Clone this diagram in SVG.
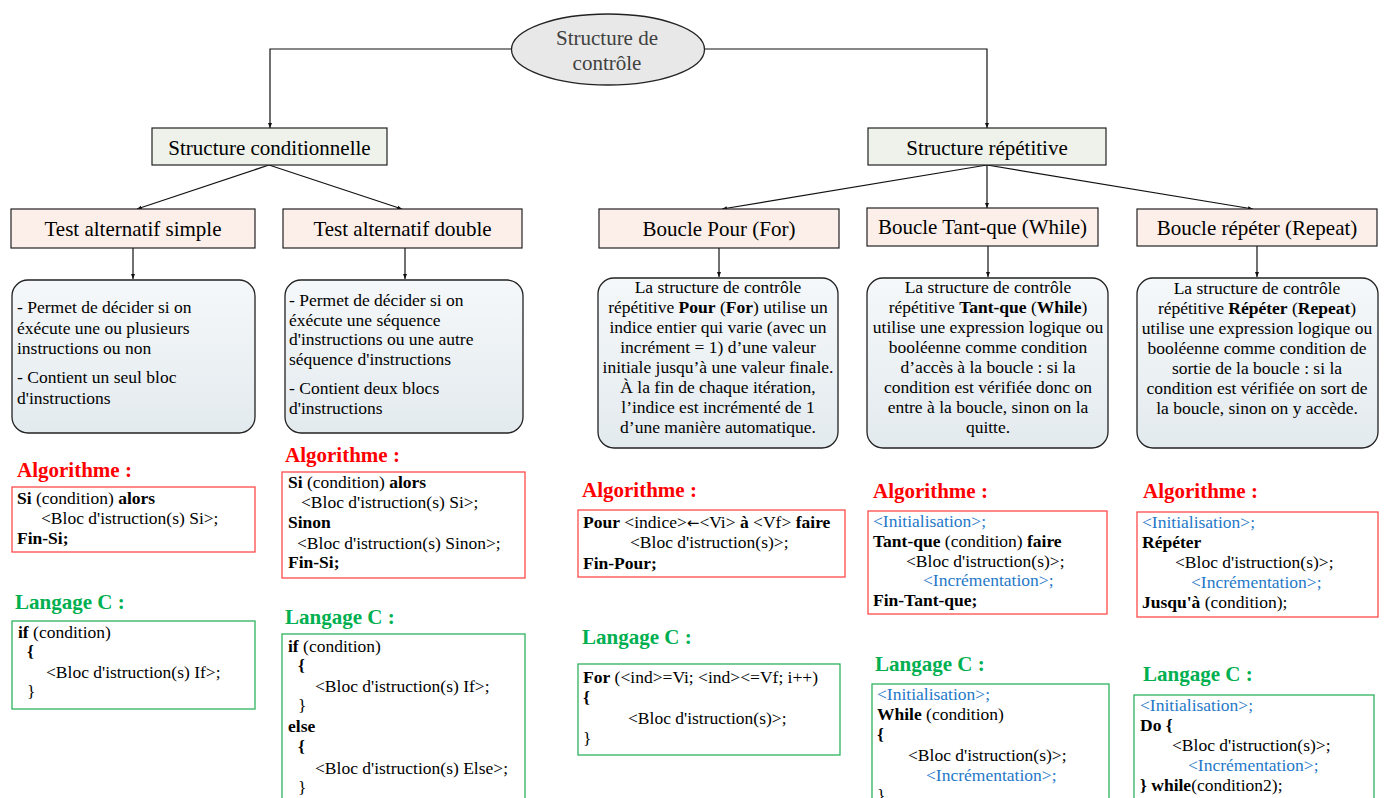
<svg xmlns="http://www.w3.org/2000/svg" width="1385" height="798" viewBox="0 0 1385 798">
<style>
text{font-family:"Liberation Serif","Times New Roman",serif;fill:#000}
.lbl{font-size:21px;text-anchor:middle}
.body{font-size:17.5px}
.ctr{text-anchor:middle}
.code{font-size:17.5px}
.b{font-weight:bold}
.blue{fill:#1f78c8}
.red{fill:#ff0000;font-size:21px;font-weight:bold}
.green{fill:#00b050;font-size:21px;font-weight:bold}
.arw{font-family:"DejaVu Sans",sans-serif;font-size:15px}
.struct{fill:#eef2ea;stroke:#222;stroke-width:1.2}
.test{fill:#fcefe9;stroke:#222;stroke-width:1.2}
.round{fill:url(#g);stroke:#222;stroke-width:1.3}
.rbox{fill:#fff;stroke:#ff4a4a;stroke-width:1.3}
.gbox{fill:#fff;stroke:#2db35d;stroke-width:1.3}
.conn{fill:none;stroke:#111;stroke-width:1.2;marker-end:url(#ah)}
</style>
<defs>
<linearGradient id="g" x1="0" y1="0" x2="0" y2="1">
<stop offset="0" stop-color="#f5f8fa"/>
<stop offset="1" stop-color="#e3eaee"/>
</linearGradient>
<marker id="ah" viewBox="0 0 10 10" refX="10" refY="5" markerWidth="5" markerHeight="5" orient="auto" markerUnits="userSpaceOnUse">
<path d="M0,1 L10,5 L0,9 z" fill="#111"/>
</marker>
</defs>
<rect width="1385" height="798" fill="#fff"/>

<g id="connectors">
<path class="conn" d="M512,49 H270 V128"/>
<path class="conn" d="M705,49 H987 V128"/>
<path class="conn" d="M269,165 L137,209"/>
<path class="conn" d="M269,165 L402,209"/>
<path class="conn" d="M133,248 V279"/>
<path class="conn" d="M405,248 V279"/>
<path class="conn" d="M987,165 L722,209"/>
<path class="conn" d="M987,165 V208"/>
<path class="conn" d="M987,165 L1253,209"/>
<path class="conn" d="M719,248 V277"/>
<path class="conn" d="M988,246 V277"/>
<path class="conn" d="M1257,246 V277"/>
</g>

<g id="root">
<ellipse cx="608" cy="49.5" rx="96.5" ry="35.5" fill="#e8e8e8" stroke="#222" stroke-width="1.3"/>
<text class="lbl" x="607" y="45" style="fill:#404040">Structure de</text>
<text class="lbl" x="607" y="70" style="fill:#404040">contrôle</text>
</g>

<g id="structure-conditionnelle">
<rect class="struct" x="152" y="128" width="235" height="37"/>
<text class="lbl" x="269.5" y="155">Structure conditionnelle</text>
</g>
<g id="structure-repetitive">
<rect class="struct" x="868" y="128" width="238" height="37"/>
<text class="lbl" x="987" y="155">Structure répétitive</text>
</g>

<g id="test-simple">
<rect class="test" x="11" y="209" width="244" height="39"/>
<text class="lbl" x="133" y="236">Test alternatif simple</text>
</g>
<g id="test-double">
<rect class="test" x="283" y="209" width="239" height="39"/>
<text class="lbl" x="402.5" y="236">Test alternatif double</text>
</g>
<g id="boucle-pour">
<rect class="test" x="599" y="209" width="240" height="39"/>
<text class="lbl" x="719" y="236">Boucle Pour (For)</text>
</g>
<g id="boucle-tantque">
<rect class="test" x="867" y="208" width="231" height="38"/>
<text class="lbl" x="982.5" y="234">Boucle Tant-que (While)</text>
</g>
<g id="boucle-repeter">
<rect class="test" x="1137" y="209" width="240" height="37"/>
<text class="lbl" x="1257" y="235">Boucle répéter (Repeat)</text>
</g>

<g id="desc-simple">
<rect class="round" x="12" y="280" width="243" height="153" rx="16"/>
<text class="body" x="17" y="313">- Permet de décider si on</text>
<text class="body" x="17" y="334">éxécute une ou plusieurs</text>
<text class="body" x="17" y="354">instructions ou non</text>
<text class="body" x="17" y="383">- Contient un seul bloc</text>
<text class="body" x="17" y="404">d'instructions</text>
</g>
<g id="desc-double">
<rect class="round" x="285" y="280" width="238" height="153" rx="16"/>
<text class="body" x="289" y="306">- Permet de décider si on</text>
<text class="body" x="289" y="326">éxécute une séquence</text>
<text class="body" x="289" y="345">d'instructions ou une autre</text>
<text class="body" x="289" y="365">séquence d'instructions</text>
<text class="body" x="289" y="394">- Contient deux blocs</text>
<text class="body" x="289" y="414">d'instructions</text>
</g>
<g id="desc-pour">
<rect class="round" x="598" y="278" width="240" height="170" rx="16"/>
<text class="body ctr" x="718" y="293">La structure de contrôle</text>
<text class="body ctr" x="718" y="313">répétitive <tspan class="b">Pour</tspan> (<tspan class="b">For</tspan>) utilise un</text>
<text class="body ctr" x="718" y="333">indice entier qui varie (avec un</text>
<text class="body ctr" x="718" y="353">incrément = 1) d’une valeur</text>
<text class="body ctr" x="718" y="373">initiale jusqu’à une valeur finale.</text>
<text class="body ctr" x="718" y="393">À la fin de chaque itération,</text>
<text class="body ctr" x="718" y="413">l’indice est incrémenté de 1</text>
<text class="body ctr" x="718" y="433">d’une manière automatique.</text>
</g>
<g id="desc-tantque">
<rect class="round" x="867" y="278" width="241" height="170" rx="16"/>
<text class="body ctr" x="988" y="293">La structure de contrôle</text>
<text class="body ctr" x="988" y="313">répétitive <tspan class="b">Tant-que</tspan> (<tspan class="b">While</tspan>)</text>
<text class="body ctr" x="988" y="333">utilise une expression logique ou</text>
<text class="body ctr" x="988" y="353">booléenne comme condition</text>
<text class="body ctr" x="988" y="373">d’accès à la boucle : si la</text>
<text class="body ctr" x="988" y="393">condition est vérifiée donc on</text>
<text class="body ctr" x="988" y="413">entre à la boucle, sinon on la</text>
<text class="body ctr" x="988" y="433">quitte.</text>
</g>
<g id="desc-repeter">
<rect class="round" x="1137" y="278" width="241" height="170" rx="16"/>
<text class="body ctr" x="1257" y="294">La structure de contrôle</text>
<text class="body ctr" x="1257" y="314">répétitive <tspan class="b">Répéter</tspan> (<tspan class="b">Repeat</tspan>)</text>
<text class="body ctr" x="1257" y="334">utilise une expression logique ou</text>
<text class="body ctr" x="1257" y="354">booléenne comme condition de</text>
<text class="body ctr" x="1257" y="374">sortie de la boucle : si la</text>
<text class="body ctr" x="1257" y="394">condition est vérifiée on sort de</text>
<text class="body ctr" x="1257" y="414">la boucle, sinon on y accède.</text>
</g>

<g id="algo-simple">
<text class="red" x="17" y="477">Algorithme :</text>
<rect class="rbox" x="12" y="487" width="243" height="65"/>
<text class="code" x="17" y="504"><tspan class="b">Si</tspan> (condition) <tspan class="b">alors</tspan></text>
<text class="code" x="41" y="524">&lt;Bloc d'istruction(s) Si&gt;;</text>
<text class="code b" x="17" y="544">Fin-Si;</text>
</g>
<g id="c-simple">
<text class="green" x="15" y="609">Langage C :</text>
<rect class="gbox" x="12" y="621" width="243" height="88"/>
<text class="code" x="18" y="638"><tspan class="b">if</tspan> (condition)</text>
<text class="code b" x="27" y="657">{</text>
<text class="code" x="46" y="678">&lt;Bloc d'istruction(s) If&gt;;</text>
<text class="code" x="27" y="697">}</text>
</g>

<g id="algo-double">
<text class="red" x="285" y="462">Algorithme :</text>
<rect class="rbox" x="282" y="472" width="243" height="106"/>
<text class="code" x="288" y="488"><tspan class="b">Si</tspan> (condition) <tspan class="b">alors</tspan></text>
<text class="code" x="301" y="508">&lt;Bloc d'istruction(s) Si&gt;;</text>
<text class="code b" x="288" y="528">Sinon</text>
<text class="code" x="297" y="549">&lt;Bloc d'istruction(s) Sinon&gt;;</text>
<text class="code b" x="288" y="568">Fin-Si;</text>
</g>
<g id="c-double">
<text class="green" x="285" y="624">Langage C :</text>
<rect class="gbox" x="282" y="634" width="243" height="170"/>
<text class="code" x="288" y="652"><tspan class="b">if</tspan> (condition)</text>
<text class="code b" x="298" y="671">{</text>
<text class="code" x="315" y="692">&lt;Bloc d'istruction(s) If&gt;;</text>
<text class="code" x="298" y="711">}</text>
<text class="code b" x="288" y="732">else</text>
<text class="code b" x="298" y="752">{</text>
<text class="code" x="315" y="774">&lt;Bloc d'istruction(s) Else&gt;;</text>
<text class="code" x="298" y="793">}</text>
</g>

<g id="algo-pour">
<text class="red" x="582" y="497">Algorithme :</text>
<rect class="rbox" x="578" y="510" width="267" height="67"/>
<text class="code" x="583" y="528"><tspan class="b">Pour</tspan> &lt;indice&gt;<tspan class="arw">←</tspan>&lt;Vi&gt; <tspan class="b">à</tspan> &lt;Vf&gt; <tspan class="b">faire</tspan></text>
<text class="code" x="630" y="548">&lt;Bloc d'istruction(s)&gt;;</text>
<text class="code b" x="583" y="569">Fin-Pour;</text>
</g>
<g id="c-pour">
<text class="green" x="582" y="644">Langage C :</text>
<rect class="gbox" x="578" y="664" width="262" height="91"/>
<text class="code" x="583" y="683"><tspan class="b">For</tspan> (&lt;ind&gt;=Vi; &lt;ind&gt;&lt;=Vf; i++)</text>
<text class="code b" x="583" y="703">{</text>
<text class="code" x="628" y="724">&lt;Bloc d'istruction(s)&gt;;</text>
<text class="code" x="583" y="744">}</text>
</g>

<g id="algo-tantque">
<text class="red" x="873" y="498">Algorithme :</text>
<rect class="rbox" x="868" y="511" width="239" height="103"/>
<text class="code blue" x="873" y="527">&lt;Initialisation&gt;;</text>
<text class="code" x="873" y="547"><tspan class="b">Tant-que</tspan> (condition) <tspan class="b">faire</tspan></text>
<text class="code" x="906" y="567">&lt;Bloc d'istruction(s)&gt;;</text>
<text class="code blue" x="923" y="586">&lt;Incrémentation&gt;;</text>
<text class="code b" x="873" y="606">Fin-Tant-que;</text>
</g>
<g id="c-tantque">
<text class="green" x="875" y="671">Langage C :</text>
<rect class="gbox" x="872" y="684" width="237" height="120"/>
<text class="code blue" x="877" y="700">&lt;Initialisation&gt;;</text>
<text class="code" x="877" y="720"><tspan class="b">While</tspan> (condition)</text>
<text class="code b" x="877" y="740">{</text>
<text class="code" x="908" y="761">&lt;Bloc d'istruction(s)&gt;;</text>
<text class="code blue" x="926" y="781">&lt;Incrémentation&gt;;</text>
<text class="code" x="877" y="801">}</text>
</g>

<g id="algo-repeter">
<text class="red" x="1143" y="498">Algorithme :</text>
<rect class="rbox" x="1137" y="512" width="241" height="105"/>
<text class="code blue" x="1142" y="528">&lt;Initialisation&gt;;</text>
<text class="code b" x="1142" y="548">Répéter</text>
<text class="code" x="1175" y="568">&lt;Bloc d'istruction(s)&gt;;</text>
<text class="code blue" x="1191" y="588">&lt;Incrémentation&gt;;</text>
<text class="code" x="1142" y="608"><tspan class="b">Jusqu'à</tspan> (condition);</text>
</g>
<g id="c-repeter">
<text class="green" x="1143" y="681">Langage C :</text>
<rect class="gbox" x="1134" y="695" width="240" height="110"/>
<text class="code blue" x="1140" y="711">&lt;Initialisation&gt;;</text>
<text class="code b" x="1140" y="731">Do {</text>
<text class="code" x="1172" y="751">&lt;Bloc d'istruction(s)&gt;;</text>
<text class="code blue" x="1188" y="771">&lt;Incrémentation&gt;;</text>
<text class="code" x="1140" y="791"><tspan class="b">} while</tspan>(condition2);</text>
</g>
</svg>
